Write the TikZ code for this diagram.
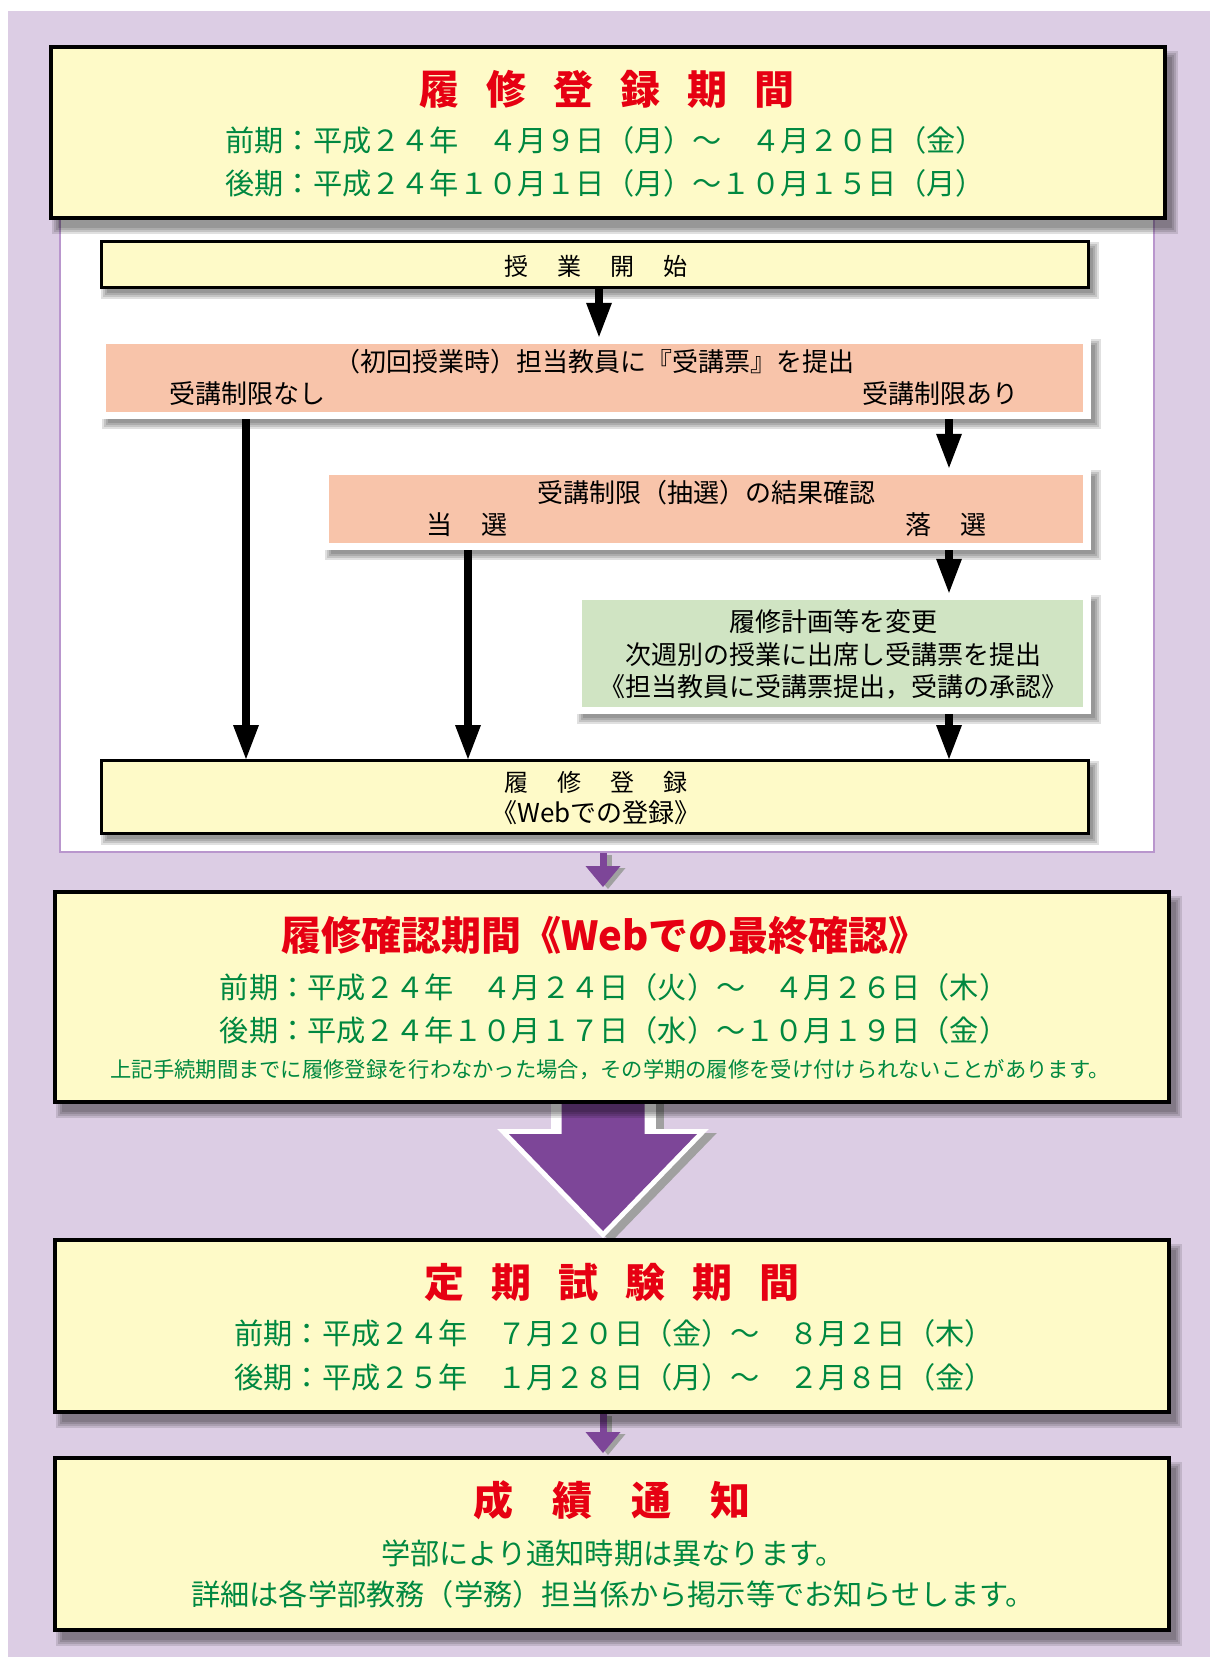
\documentclass[tikz,border=0pt]{standalone}
\usepackage{fontspec}
\setmainfont{Noto Sans CJK JP}
\usetikzlibrary{arrows.meta,calc}
\definecolor{lav}{RGB}{220,205,228}
\definecolor{byel}{RGB}{254,250,200}
\definecolor{tred}{RGB}{230,0,18}
\definecolor{tgreen}{RGB}{0,136,64}
\definecolor{pinkf}{RGB}{248,196,170}
\definecolor{greenf}{RGB}{208,228,195}
\definecolor{purp}{RGB}{125,70,152}
\definecolor{pborder}{RGB}{185,150,205}
\definecolor{shgray}{RGB}{160,160,160}
\newcommand\myfs[1]{\fontsize{#1}{#1}\selectfont}
\newcommand\hsp[1]{\hspace{#1pt}}
\newcommand\softshadow[3]{%
  \foreach \e in {6,4,2,0} {%
    \fill[black,opacity=0.12] ($(#1.north west)+(#2+2-\e,#3+2-\e)$) rectangle ($(#1.south east)+(#2-2+\e,#3-2+\e)$);
  }}
\pgfdeclarelayer{bg}
\pgfdeclarelayer{arr}
\pgfdeclarelayer{shd}
\pgfsetlayers{bg,arr,shd,main}
\begin{document}
\begin{tikzpicture}[x=1pt,y=-1pt,
  bigbox/.style={draw=black,line width=4pt,fill=byel,inner sep=0pt},
  smallbox/.style={draw=black,line width=3pt,fill=byel,inner sep=0pt},
  framebox/.style={fill=white,inner sep=0pt},
  pinkbox/.style={fill=pinkf,inner sep=0pt},
  grbox/.style={fill=greenf,inner sep=0pt},
  panelbox/.style={draw=pborder,line width=2.5pt,fill=white,inner sep=0pt},
  title/.style={text=tred,font=\bfseries\myfs{40},inner sep=0pt},
  datetxt/.style={text=tgreen,font=\myfs{29.2},inner sep=0pt},
  flow/.style={text=black,font=\myfs{26},inner sep=0pt},
  barrow/.style={draw=black,line width=8pt,-{Triangle[width=26pt,length=34pt,line width=0pt]}},
  parrow/.style={draw=purp,line width=7pt,-{Triangle[width=35pt,length=21pt,line width=0pt]}},
  pshadow/.style={draw=shgray,line width=7pt,-{Triangle[width=35pt,length=21pt,line width=0pt]}}
]
\useasboundingbox (0,0) rectangle (1216,1659);
\begin{pgfonlayer}{bg}
  \fill[white] (0,0) rectangle (1216,1659);
  \fill[lav] (8,11) rectangle (1210,1657);
  \node[panelbox,minimum width=1094,minimum height=642] (panel) at (607,531) {};
\end{pgfonlayer}

% ---- top box
\node[bigbox,minimum width=1114,minimum height=171] (b1) at (608,132.5) {};
\node[title] (b1t) at (607,89) {履\hsp{27}修\hsp{27}登\hsp{27}録\hsp{27}期\hsp{27}間};
\node[datetxt] (b1a) at (605,140) {前期：平成２４年　４月９日（月）～　４月２０日（金）};
\node[datetxt] (b1b) at (605,183) {後期：平成２４年１０月１日（月）～１０月１５日（月）};

% ---- flow inside panel
\node[smallbox,minimum width=987,minimum height=46] (st) at (595,264.5) {};
\node[flow,font=\myfs{24}] (stt) at (596,266) {授\hsp{29}業\hsp{29}開\hsp{29}始};

\node[framebox,minimum width=991,minimum height=82] (f1) at (595.5,378) {};
\node[pinkbox,minimum width=977,minimum height=68] (p1) at (594.5,378) {};
\node[flow] (p1t) at (594,362) {（初回授業時）担当教員に『受講票』を提出};
\node[flow] (p1l) at (247,394) {受講制限なし};
\node[flow] (p1r) at (940,394) {受講制限あり};

\node[framebox,minimum width=768,minimum height=82] (f2) at (707,509) {};
\node[pinkbox,minimum width=754,minimum height=68] (p2) at (706,509) {};
\node[flow] (p2t) at (706,493) {受講制限（抽選）の結果確認};
\node[flow] (p2l) at (467,525) {当\hsp{30}選};
\node[flow] (p2r) at (946,525) {落\hsp{30}選};

\node[framebox,minimum width=516,minimum height=121] (f3) at (833,653.5) {};
\node[grbox,minimum width=501,minimum height=107] (g) at (832.5,653.5) {};
\node[flow,align=center,font=\fontsize{26}{32.5}\selectfont] (gt) at (833,654.5)
  {履修計画等を変更\\次週別の授業に出席し受講票を提出\\《担当教員に受講票提出，受講の承認》};

\node[smallbox,minimum width=987,minimum height=73] (rg) at (595,797) {};
\node[flow,font=\myfs{24}] (rgt) at (596,782) {履\hsp{29}修\hsp{29}登\hsp{29}録};
\node[flow] (rgw) at (596,813) {《Webでの登録》};

% ---- box 2
\node[bigbox,minimum width=1114,minimum height=210] (b2) at (612,997) {};
\node[title] (b2t) at (605,935) {履修確認期間《Webでの最終確認》};
\node[datetxt] (b2a) at (614,987) {前期：平成２４年　４月２４日（火）～　４月２６日（木）};
\node[datetxt] (b2b) at (614,1030) {後期：平成２４年１０月１７日（水）～１０月１９日（金）};
\node[datetxt,font=\myfs{21.3}] (b2n) at (610,1070) {上記手続期間までに履修登録を行わなかった場合，その学期の履修を受け付けられないことがあります。};

% ---- box 3
\node[bigbox,minimum width=1114,minimum height=172] (b3) at (612,1326) {};
\node[title] (b3t) at (612,1282) {定\hsp{27}期\hsp{27}試\hsp{27}験\hsp{27}期\hsp{27}間};
\node[datetxt] (b3a) at (614,1333) {前期：平成２４年　７月２０日（金）～　８月２日（木）};
\node[datetxt] (b3b) at (614,1377) {後期：平成２５年　１月２８日（月）～　２月８日（金）};

% ---- box 4
\node[bigbox,minimum width=1114,minimum height=172] (b4) at (612,1544) {};
\node[title] (b4t) at (612,1500) {成\hsp{39}績\hsp{39}通\hsp{39}知};
\node[datetxt] (b4a) at (613,1553) {学部により通知時期は異なります。};
\node[datetxt] (b4b) at (613,1594) {詳細は各学部教務（学務）担当係から掲示等でお知らせします。};

% ---- shadows
\begin{pgfonlayer}{shd}
  \softshadow{b1}{7}{10}
  \softshadow{st}{5}{6}
  \softshadow{f1}{6}{6}
  \softshadow{f2}{6}{6}
  \softshadow{f3}{6}{6}
  \softshadow{rg}{5}{6}
  \softshadow{b2}{7}{10}
  \softshadow{b3}{7}{10}
  \softshadow{b4}{7}{10}
\end{pgfonlayer}

% ---- connectors
\coordinate (xc) at (599,0);
\coordinate (xl) at (246,0);
\coordinate (xm) at (468,0);
\coordinate (xr) at (949,0);
\coordinate (xp) at (603,0);
\begin{pgfonlayer}{arr}
  \draw[barrow] (st.south -| xc) -- (f1.north -| xc);
  \draw[barrow] (f1.south -| xl) -- (rg.north -| xl);
  \draw[barrow] (f1.south -| xr) -- (f2.north -| xr);
  \draw[barrow] (f2.south -| xm) -- (rg.north -| xm);
  \draw[barrow] (f2.south -| xr) -- (f3.north -| xr);
  \draw[barrow] (f3.south -| xr) -- (rg.north -| xr);

  \draw[pshadow,transform canvas={shift={(5pt,-2pt)}},shorten >=3pt] (panel.south -| xp) -- (b2.north -| xp);
  \draw[parrow,shorten >=3pt] (panel.south -| xp) -- (b2.north -| xp);
  \draw[pshadow,transform canvas={shift={(5pt,-2pt)}},shorten >=3pt] (b3.south -| xp) -- (b4.north -| xp);
  \draw[parrow,shorten >=3pt] (b3.south -| xp) -- (b4.north -| xp);

  \coordinate (ba) at (b2.south -| xp);
  \begin{scope}[shift={(ba)}]
    \begin{scope}[shift={(8,4)}]
      \filldraw[shgray,line width=10pt,line join=miter]
        (-41.5,-6) -- (41.5,-6) -- (41.5,30) -- (94,30) -- (0,127) -- (-94,30) -- (-41.5,30) -- cycle;
      \fill[shgray] (-52.5,-6) rectangle (52.5,32);
    \end{scope}
    \filldraw[white,line width=10pt,line join=miter]
      (-41.5,-6) -- (41.5,-6) -- (41.5,30) -- (94,30) -- (0,127) -- (-94,30) -- (-41.5,30) -- cycle;
    \fill[white] (-52.5,-6) rectangle (52.5,32);
    \fill[purp]
      (-41.5,-6) -- (41.5,-6) -- (41.5,30) -- (94,30) -- (0,127) -- (-94,30) -- (-41.5,30) -- cycle;
  \end{scope}
\end{pgfonlayer}
\end{tikzpicture}
\end{document}
